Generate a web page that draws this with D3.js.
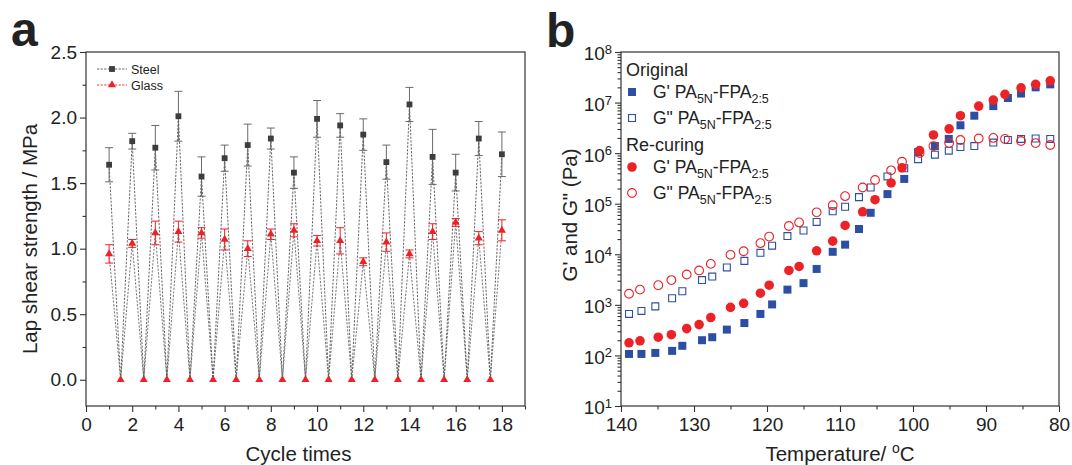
<!DOCTYPE html>
<html>
<head>
<meta charset="utf-8">
<title>Lap shear and rheology</title>
<script src="https://d3js.org/d3.v7.min.js"></script>
<style>
  body { margin: 0; background: #fff; }
  svg text { font-family: Arial, "Liberation Sans", Helvetica, sans-serif; fill: #222; }
</style>
</head>
<body>
<div id="chart"></div>
<script>
// ---- panel a data: lap shear strength over cycles
var cycles = [1, 2, 3, 4, 5, 6, 7, 8, 9, 10, 11, 12, 13, 14, 15, 16, 17, 18];
var steelMean = [1.64, 1.82, 1.77, 2.01, 1.55, 1.69, 1.79, 1.84, 1.58, 1.99, 1.94, 1.87, 1.66, 2.10, 1.70, 1.58, 1.84, 1.72];
var steelErr  = [0.13, 0.06, 0.17, 0.19, 0.15, 0.10, 0.16, 0.08, 0.12, 0.14, 0.09, 0.12, 0.13, 0.13, 0.21, 0.14, 0.13, 0.17];
var glassMean = [0.96, 1.04, 1.12, 1.13, 1.12, 1.07, 1.00, 1.11, 1.14, 1.06, 1.06, 0.90, 1.05, 0.96, 1.13, 1.20, 1.08, 1.14];
var glassErr  = [0.07, 0.03, 0.09, 0.08, 0.04, 0.08, 0.06, 0.04, 0.05, 0.04, 0.10, 0.03, 0.07, 0.03, 0.06, 0.03, 0.05, 0.08];
var brokenX = [1.5, 2.5, 3.5, 4.5, 5.5, 6.5, 7.5, 8.5, 9.5, 10.5, 11.5, 12.5, 13.5, 14.5, 15.5, 16.5, 17.5];
var brokenY = [0, 0, 0, 0, 0, 0, 0, 0, 0, 0, 0, 0, 0, 0, 0, 0, 0];

// ---- panel b data: temperature sweep (Pa)
var tempOrig = [138.9, 137.2, 135.3, 133.0, 131.6, 128.9, 127.5, 125.5, 123.1, 120.9, 119.3, 117.2, 115.0, 113.2, 111.0,
                109.3, 107.4, 105.8, 103.5, 101.2, 99.3, 97.0, 95.1, 93.5, 91.6, 89.0, 87.0, 85.2, 83.2, 81.2];
var gpOrig = [107, 107, 112, 123, 155, 200, 229, 324, 437, 661, 1020, 2000, 2690, 5130, 11200,
              15500, 31600, 66100, 155000, 309000, 1.05e6, 1.38e6, 1.91e6, 3.55e6, 5.5e6, 8.51e6, 1.23e7, 1.51e7, 2.0e7, 2.29e7];
var gppOrig = [661, 759, 933, 1350, 1860, 3090, 3630, 5500, 7410, 10700, 14800, 22900, 29500, 43700, 70800,
               87100, 135000, 209000, 347000, 501000, 759000, 933000, 1.12e6, 1.32e6, 1.38e6, 1.62e6, 1.82e6, 1.91e6, 1.95e6, 1.91e6];
var tempRe = [138.9, 137.4, 134.9, 133.1, 131.0, 129.3, 127.7, 125.0, 123.2, 120.9, 119.7, 117.0, 115.6, 113.2, 111.0,
              109.3, 106.9, 105.2, 103.0, 101.5, 99.1, 97.2, 95.05, 93.5, 91.0, 89.0, 87.4, 85.2, 83.2, 81.2];
var gpRe = [178, 195, 229, 257, 339, 407, 562, 891, 1070, 1700, 2450, 4790, 5750, 11700, 18200,
            37200, 69200, 120000, 257000, 513000, 1.12e6, 2.29e6, 3.02e6, 5.5e6, 8.51e6, 1.12e7, 1.45e7, 1.95e7, 2.29e7, 2.69e7];
var gppRe = [1660, 2000, 2450, 3090, 3980, 4790, 6460, 9770, 11500, 16600, 22400, 36300, 42700, 67600, 93300,
             141000, 209000, 295000, 457000, 676000, 1.0e6, 1.38e6, 1.58e6, 1.82e6, 1.95e6, 2.0e6, 1.91e6, 1.74e6, 1.58e6, 1.45e6];

var W = 1072, H = 465;
var blue = "#2c4ea3", red = "#ec2227", axisCol = "#333";

var svg = d3.select("#chart").append("svg")
  .attr("width", W).attr("height", H)
  .attr("viewBox", [0, 0, W, H]);

function styleAxis(g) {
  g.select(".domain").remove();
  g.selectAll("line").attr("stroke", axisCol).attr("stroke-width", 1.1);
  g.selectAll("text").style("font-size", "19px").attr("fill", "#222");
}

// ================= panel a =================
var ax = { l: 86, r: 525, t: 52, b: 406 };
var xa = d3.scaleLinear().domain([0, 19]).range([ax.l, ax.r]);
var ya = d3.scaleLinear().domain([-0.2, 2.5]).range([ax.b, ax.t]);

var ga = svg.append("g");

// minor ticks
ga.append("g").attr("transform", `translate(0,${ax.b})`)
  .call(d3.axisBottom(xa).tickValues(d3.range(1, 20, 2)).tickSize(3.5).tickFormat(""))
  .call(styleAxis);
ga.append("g").attr("transform", `translate(${ax.l},0)`)
  .call(d3.axisLeft(ya).tickValues(d3.range(0.25, 2.5, 0.5)).tickSize(3.5).tickFormat(""))
  .call(styleAxis);
// major ticks
ga.append("g").attr("transform", `translate(0,${ax.b})`)
  .call(d3.axisBottom(xa).tickValues(d3.range(0, 19, 2)).tickSize(6).tickPadding(6))
  .call(styleAxis);
ga.append("g").attr("transform", `translate(${ax.l},0)`)
  .call(d3.axisLeft(ya).tickValues([0, 0.5, 1, 1.5, 2, 2.5]).tickSize(6).tickPadding(3).tickFormat(d3.format(".1f")))
  .call(styleAxis);

ga.append("rect").attr("x", ax.l).attr("y", ax.t)
  .attr("width", ax.r - ax.l).attr("height", ax.b - ax.t)
  .attr("fill", "none").attr("stroke", axisCol).attr("stroke-width", 1.2);

// zig-zag series: each measured cycle followed by a broken point at zero
function zigzag(means) {
  var pts = [];
  cycles.forEach(function (c, i) {
    pts.push([c, means[i]]);
    if (i < brokenX.length) pts.push([brokenX[i], brokenY[i]]);
  });
  return pts;
}
var lineA = d3.line().x(d => xa(d[0])).y(d => ya(d[1]));

ga.append("path").datum(zigzag(glassMean))
  .attr("fill", "none").attr("stroke", "#6a6a6a").attr("stroke-width", 0.9)
  .attr("stroke-dasharray", "2.2,1.4").attr("d", lineA);
ga.append("path").datum(zigzag(steelMean))
  .attr("fill", "none").attr("stroke", "#555").attr("stroke-width", 0.9)
  .attr("stroke-dasharray", "2.2,1.4").attr("d", lineA);

// error bars
function errorBars(means, errs, color) {
  var g = ga.append("g").attr("stroke", color).attr("stroke-width", 1);
  cycles.forEach(function (c, i) {
    var x = xa(c), y1 = ya(means[i] - errs[i]), y2 = ya(means[i] + errs[i]);
    g.append("line").attr("x1", x).attr("x2", x).attr("y1", y1).attr("y2", y2);
    g.append("line").attr("x1", x - 4).attr("x2", x + 4).attr("y1", y1).attr("y2", y1);
    g.append("line").attr("x1", x - 4).attr("x2", x + 4).attr("y1", y2).attr("y2", y2);
  });
}
errorBars(steelMean, steelErr, "#6a6a6a");
errorBars(glassMean, glassErr, red);

var sq = d3.symbol().type(d3.symbolSquare).size(34);
var tri = d3.symbol().type(d3.symbolTriangle).size(28);

ga.selectAll(".steel").data(cycles).join("path")
  .attr("transform", (d, i) => `translate(${xa(d)},${ya(steelMean[i])})`)
  .attr("d", sq).attr("fill", "#3d3d3d");
ga.selectAll(".glass").data(cycles).join("path")
  .attr("transform", (d, i) => `translate(${xa(d)},${ya(glassMean[i])})`)
  .attr("d", tri).attr("fill", red);
ga.selectAll(".broken").data(brokenX).join("path")
  .attr("transform", (d, i) => `translate(${xa(d)},${ya(brokenY[i])})`)
  .attr("d", tri).attr("fill", red);

// legend a
var legA = [{ name: "Steel", col: "#555", sym: sq, fill: "#3d3d3d", y: 69 },
            { name: "Glass", col: red, sym: tri, fill: red, y: 85 }];
legA.forEach(function (d) {
  ga.append("line").attr("x1", 97).attr("x2", 127).attr("y1", d.y).attr("y2", d.y)
    .attr("stroke", d.col).attr("stroke-width", 0.9).attr("stroke-dasharray", "2.2,1.4");
  ga.append("path").attr("transform", `translate(112,${d.y})`).attr("d", d.sym).attr("fill", d.fill);
  ga.append("text").attr("x", 131).attr("y", d.y + 4.5).style("font-size", "12.5px").text(d.name);
});

ga.append("text").attr("transform", `translate(37,${(ax.t + ax.b) / 2 + 10}) rotate(-90)`)
  .attr("text-anchor", "middle").style("font-size", "20.5px").text("Lap shear strength / MPa");
ga.append("text").attr("x", (ax.l + ax.r) / 2 - 7).attr("y", 461)
  .attr("text-anchor", "middle").style("font-size", "20.5px").text("Cycle times");
ga.append("text").attr("x", 11).attr("y", 46).style("font-size", "48px")
  .style("font-weight", "bold").attr("fill", "#111").text("a");

// ================= panel b =================
var bx = { l: 621, r: 1059, t: 52, b: 406 };
var xb = d3.scaleLinear().domain([140, 80]).range([bx.l, bx.r]);
var yb = d3.scaleLog().domain([10, 1e8]).range([bx.b, bx.t]);
var gb = svg.append("g");

var minorLog = [];
d3.range(1, 8).forEach(function (e) {
  d3.range(2, 10).forEach(function (m) { minorLog.push(m * Math.pow(10, e)); });
});
gb.append("g").attr("transform", `translate(${bx.l},0)`)
  .call(d3.axisLeft(yb).tickValues(minorLog).tickSize(3.5).tickFormat(""))
  .call(styleAxis);
gb.append("g").attr("transform", `translate(0,${bx.b})`)
  .call(d3.axisBottom(xb).tickValues(d3.range(135, 80, -10)).tickSize(3.5).tickFormat(""))
  .call(styleAxis);
gb.append("g").attr("transform", `translate(0,${bx.b})`)
  .call(d3.axisBottom(xb).tickValues(d3.range(140, 79, -10)).tickSize(6).tickPadding(6))
  .call(styleAxis);

var yAxB = gb.append("g").attr("transform", `translate(${bx.l},0)`)
  .call(d3.axisLeft(yb).tickValues(d3.range(1, 9).map(e => Math.pow(10, e))).tickSize(6).tickPadding(3).tickFormat(""))
  .call(styleAxis);
yAxB.selectAll(".tick text").each(function (d) {
  var t = d3.select(this).attr("dy", "0.42em");
  t.append("tspan").text("10");
  t.append("tspan").attr("dy", "-0.5em").style("font-size", "13px").text(Math.round(Math.log10(d)));
});

gb.append("rect").attr("x", bx.l).attr("y", bx.t)
  .attr("width", bx.r - bx.l).attr("height", bx.b - bx.t)
  .attr("fill", "none").attr("stroke", axisCol).attr("stroke-width", 1.2);

var sqB = d3.symbol().type(d3.symbolSquare).size(64);
var sqBo = d3.symbol().type(d3.symbolSquare).size(48);
var ciB = d3.symbol().type(d3.symbolCircle).size(72);
var ciBo = d3.symbol().type(d3.symbolCircle).size(60);

var seriesB = [
  { t: tempOrig, v: gpOrig, sym: sqB, fill: blue, stroke: "none" },
  { t: tempOrig, v: gppOrig, sym: sqBo, fill: "none", stroke: blue },
  { t: tempRe, v: gpRe, sym: ciB, fill: red, stroke: "none" },
  { t: tempRe, v: gppRe, sym: ciBo, fill: "none", stroke: red }
];
seriesB.forEach(function (s) {
  gb.append("g").selectAll("path").data(s.t).join("path")
    .attr("transform", (d, i) => `translate(${xb(d)},${yb(s.v[i])})`)
    .attr("d", s.sym).attr("fill", s.fill).attr("stroke", s.stroke).attr("stroke-width", 1.1);
});

// legend b
function sampleLabel(y, prime, s) {
  var t = gb.append("text").attr("x", 653).attr("y", y + 6).style("font-size", "17.5px");
  t.append("tspan").text(prime + " PA");
  t.append("tspan").attr("dy", 5).style("font-size", "12.5px").text("5N");
  t.append("tspan").attr("dy", -5).text("-FPA");
  t.append("tspan").attr("dy", 5).style("font-size", "12.5px").text("2:5");
  gb.append("path").attr("transform", `translate(632,${y})`)
    .attr("d", s.sym).attr("fill", s.fill).attr("stroke", s.stroke).attr("stroke-width", 1.1);
}
gb.append("text").attr("x", 626).attr("y", 76).style("font-size", "18px").text("Original");
sampleLabel(92, "G'", seriesB[0]);
sampleLabel(118, "G\"", seriesB[1]);
gb.append("text").attr("x", 626).attr("y", 151).style("font-size", "18px").text("Re-curing");
sampleLabel(167, "G'", seriesB[2]);
sampleLabel(193, "G\"", seriesB[3]);

gb.append("text").attr("transform", `translate(577,${(bx.t + bx.b) / 2 - 14}) rotate(-90)`)
  .attr("text-anchor", "middle").style("font-size", "20.5px").text("G' and G\" (Pa)");
var xl = gb.append("text").attr("x", (bx.l + bx.r) / 2).attr("y", 461)
  .attr("text-anchor", "middle").style("font-size", "20.5px");
xl.append("tspan").text("Temperature/ ");
xl.append("tspan").attr("dy", -8).style("font-size", "14px").text("o");
xl.append("tspan").attr("dy", 8).text("C");
gb.append("text").attr("x", 546).attr("y", 47).style("font-size", "48px")
  .style("font-weight", "bold").attr("fill", "#111").text("b");
</script>
</body>
</html>
